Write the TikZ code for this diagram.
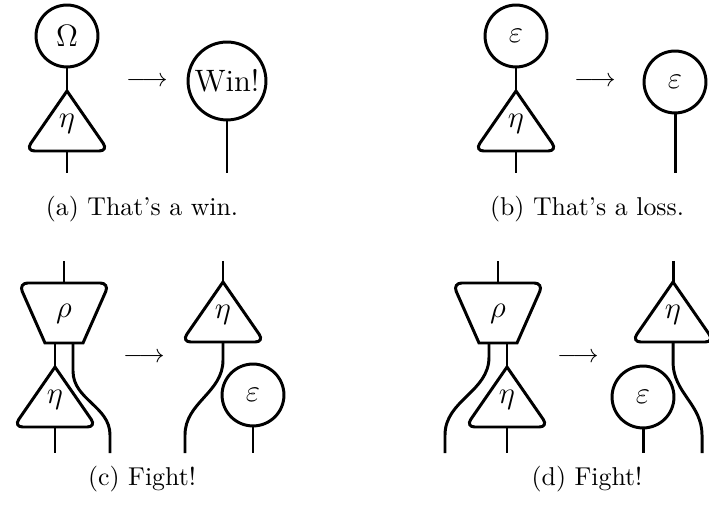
\documentclass[tikz,border=0pt]{standalone}
\usepackage{amsmath,amssymb}
\usetikzlibrary{calc}

\tikzset{
  blob/.style={circle, draw, minimum size=24pt, inner sep=0pt, font=\large},
  lbl/.style={font=\large},
  eta/.pic={
    \draw (0,0) [rounded corners=3.6pt] -- (-41.5,-60) -- (41.5,-60) [sharp corners] -- cycle;
    \node[lbl] (-lab) at (0,-33) {$\eta$};
    \coordinate (-top) at (0,0);
    \coordinate (-bot) at (0,-60);
  },
  rho/.pic={
    \draw (-19,-60) [rounded corners=3.6pt] -- (-45.5,0) -- (45.5,0) [sharp corners] -- (19,-60) -- cycle;
    \node[lbl] (-lab) at (0,-31) {$\rho$};
    \coordinate (-top) at (0,0);
    \coordinate (-l) at (-9,-60);
    \coordinate (-r) at (9,-60);
  },
}

\begin{document}
\begin{tikzpicture}[x=0.3876pt, y=0.3876pt, line width=1.15pt]
  \useasboundingbox (0,0) rectangle (709,504);

  % (a)
  \node[blob] (om) at (67,468) {$\Omega$};
  \pic (ea) at (67,413) {eta};
  \coordinate (ea-in) at (67,331);
  \draw (om) -- (ea-top);
  \draw (ea-bot) -- (ea-in);
  \node (arra) at (147,422) {$\longrightarrow$};
  \node[blob, minimum size=30.2pt] (win) at (227,423) {Win!};
  \coordinate (win-in) at (227,331);
  \draw (win) -- (win-in);
  \node (capa) at (142,295) {(a) That's a win.};

  % (b)
  \node[blob] (eb) at (516,468) {$\varepsilon$};
  \pic (eb2) at (516,413) {eta};
  \coordinate (eb2-in) at (516,331);
  \draw (eb) -- (eb2-top);
  \draw (eb2-bot) -- (eb2-in);
  \node (arrb) at (595,422) {$\longrightarrow$};
  \node[blob] (ebr) at (675,422) {$\varepsilon$};
  \coordinate (ebr-in) at (675,331);
  \draw (ebr) -- (ebr-in);
  \node (capb) at (587,295) {(b) That's a loss.};

  % (c)
  \pic (rc) at (64,221) {rho};
  \coordinate (rc-out) at (64,243);
  \draw (rc-top) -- (rc-out);
  \pic (ec) at (55,137) {eta};
  \coordinate (ec-in) at (55,51);
  \draw (rc-l) -- (ec-top);
  \draw (ec-bot) -- (ec-in);
  \coordinate (c-in) at (110,51);
  \draw (rc-r) -- ++(0,-28) to[out=-90,in=90] ($(c-in)+(0,18)$) -- (c-in);
  \node (arrc) at (144,146) {$\longrightarrow$};
  \pic (ecr) at (223,222) {eta};
  \coordinate (ecr-out) at (223,243);
  \coordinate (cr-in) at (185,51);
  \draw (ecr-out) -- (ecr-top);
  \draw (ecr-bot) -- ++(0,-18) to[out=-90,in=90] ($(cr-in)+(0,18)$) -- (cr-in);
  \node[blob] (ecc) at (253,109) {$\varepsilon$};
  \coordinate (ecc-in) at (253,51);
  \draw (ecc) -- (ecc-in);
  \node (capc) at (142,25) {(c) Fight!};

  % (d)
  \pic (rd) at (498,221) {rho};
  \coordinate (rd-out) at (498,243);
  \draw (rd-top) -- (rd-out);
  \pic (ed) at (507,137) {eta};
  \coordinate (ed-in) at (507,51);
  \draw (rd-r) -- (ed-top);
  \draw (ed-bot) -- (ed-in);
  \coordinate (d-in) at (445,51);
  \draw (rd-l) -- ++(0,-14) to[out=-90,in=90] ($(d-in)+(0,18)$) -- (d-in);
  \node (arrd) at (578,146) {$\longrightarrow$};
  \pic (edr) at (673,222) {eta};
  \coordinate (edr-out) at (673,243);
  \coordinate (dr-in) at (702,51);
  \draw (edr-out) -- (edr-top);
  \draw (edr-bot) -- ++(0,-20) to[out=-90,in=90] ($(dr-in)+(0,18)$) -- (dr-in);
  \node[blob] (edc) at (643,107) {$\varepsilon$};
  \coordinate (edc-in) at (643,51);
  \draw (edc) -- (edc-in);
  \node (capd) at (587,25) {(d) Fight!};
\end{tikzpicture}
\end{document}
